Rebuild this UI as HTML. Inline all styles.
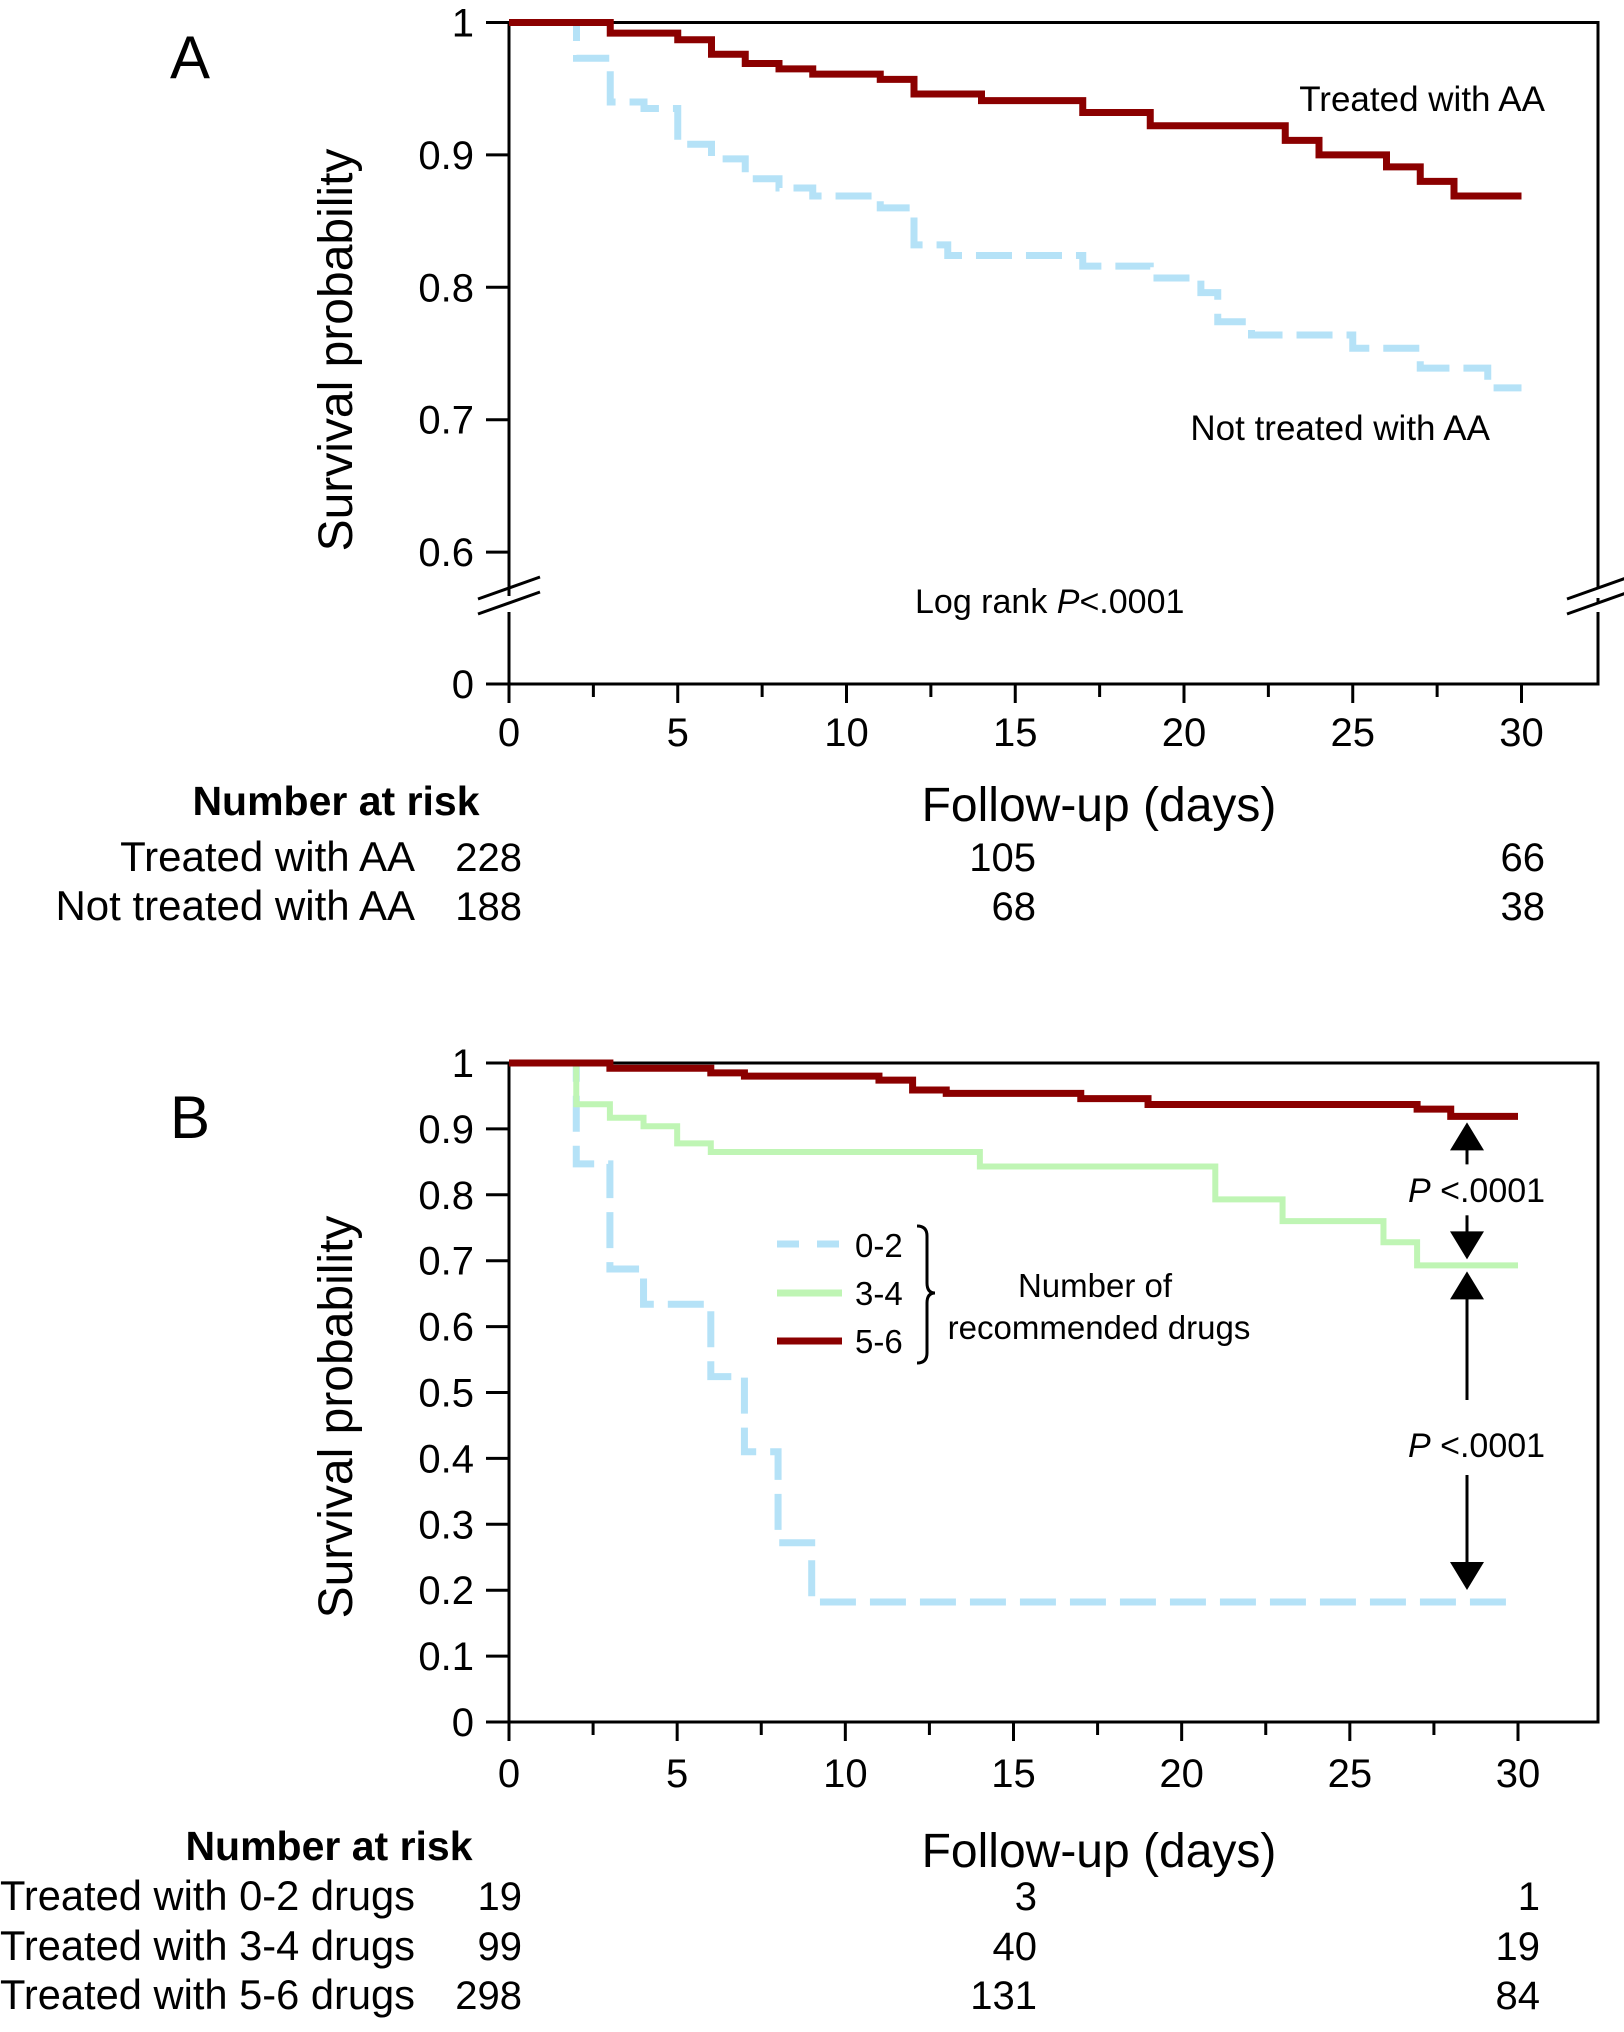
<!DOCTYPE html>
<html><head><meta charset="utf-8"><style>
html,body{margin:0;padding:0;background:#fff;}
svg{display:block;font-family:"Liberation Sans",Arial,sans-serif;}
</style></head><body>
<svg id="chart" width="1624" height="2032" viewBox="0 0 1624 2032">
<g id="gA"></g>
<g id="gB"></g>
</svg>
<script>
// Panel A data
const aDays = [0,5,10,15,20,25,30];
const aTicksY = [1,0.9,0.8,0.7,0.6];
const aTreatedT = [0,3,5,6,7,8,9,11,12,14,17,19,23,24,26,27,28,30];
const aTreatedS = [1,0.992,0.987,0.976,0.969,0.965,0.961,0.957,0.946,0.941,0.932,0.922,0.911,0.900,0.891,0.880,0.869,0.869];
const aNotT = [0,2,3,4,5,6,7,8,9,11,12,13,17,19,20.5,21,22,25,27,29,30];
const aNotS = [1,0.973,0.940,0.935,0.908,0.897,0.882,0.875,0.869,0.860,0.832,0.824,0.816,0.807,0.796,0.774,0.764,0.754,0.739,0.724,0.724];
// Panel B data
const bTicksY = [1,0.9,0.8,0.7,0.6,0.5,0.4,0.3,0.2,0.1,0];
const b56T = [0,3,6,7,11,12,13,17,19,27,28,30];
const b56S = [1,0.992,0.985,0.980,0.974,0.959,0.954,0.946,0.937,0.930,0.919,0.919];
const b34T = [0,2,3,4,5,6,14,21,23,26,27,30];
const b34S = [1,0.9375,0.917,0.904,0.878,0.865,0.843,0.793,0.760,0.728,0.693,0.693];
const b02T = [0,2,3,4,6,7,8,9,30];
const b02S = [1,0.847,0.6875,0.634,0.524,0.410,0.272,0.182,0.182];

const NS='http://www.w3.org/2000/svg';
function mk(parent,tag,attrs,text){const e=document.createElementNS(NS,tag);for(const k in attrs)e.setAttribute(k,attrs[k]);if(text!==undefined)e.textContent=text;parent.appendChild(e);return e;}
const RED='#8b0000',BLUE='#b5e2f7',GREEN='#bff5b4';
const TF=40;

function stepPath(T,S,xf,yf){let d='M'+xf(T[0])+','+yf(S[0]);for(let i=1;i<T.length;i++){d+=' H'+xf(T[i])+' V'+yf(S[i]);}return d;}

// ---------- Panel A ----------
(function(){
const g=document.getElementById('gA');
const x=d=>509+d*(1521.5-509)/30;
const y=v=>v>=0.55? 22.5+(1-v)*1324 : 684;
const f=mk(g,'path',{d:'M509,603 V22.5 H1598 V603 M1598,612 V684 H509 V612',fill:'none',stroke:'#000','stroke-width':3});

mk(g,'rect',{x:500,y:596,width:18,height:10,fill:'#fff'});
mk(g,'rect',{x:1590,y:588,width:16,height:10,fill:'#fff'});
[478,1567].forEach(bx=>{const b=mk(g,'path',{d:`M${bx},599 l62,-22 M${bx},614 l62,-22`,stroke:'#000','stroke-width':3});});
aTicksY.forEach(v=>{mk(g,'line',{x1:486,x2:509,y1:y(v),y2:y(v),stroke:'#000','stroke-width':3});
const t=mk(g,'text',{x:474,y:y(v)+14,'font-size':TF,'text-anchor':'end'},String(v));});
mk(g,'line',{x1:486,x2:509,y1:684,y2:684,stroke:'#000','stroke-width':3});
mk(g,'text',{x:474,y:698,'font-size':TF,'text-anchor':'end'},'0');
for(let d=0;d<=30;d+=2.5){mk(g,'line',{x1:x(d),x2:x(d),y1:684,y2:d%5===0?703:697,stroke:'#000','stroke-width':3});}
aDays.forEach(d=>{const t=mk(g,'text',{x:x(d),y:746,'font-size':TF,'text-anchor':'middle'},String(d));});
const p1=mk(g,'path',{d:stepPath(aNotT,aNotS,x,y),fill:'none',stroke:BLUE,'stroke-width':7,'stroke-dasharray':'36,14'});

const p2=mk(g,'path',{d:stepPath(aTreatedT,aTreatedS,x,y),fill:'none',stroke:RED,'stroke-width':7});

const t1=mk(g,'text',{x:1545,y:111,'font-size':35,'text-anchor':'end'},'Treated with AA');
const t2=mk(g,'text',{x:1490,y:440,'font-size':35,'text-anchor':'end'},'Not treated with AA');
const lr=mk(g,'text',{x:915,y:613,'font-size':34});lr.innerHTML='Log rank <tspan font-style="italic">P</tspan>&lt;.0001';
const A=mk(g,'text',{x:190,y:78,'font-size':60,'text-anchor':'middle'},'A');
const yl=mk(g,'text',{x:0,y:0,'font-size':48,'text-anchor':'middle',transform:'translate(352,350) rotate(-90)'},'Survival probability');
const xl=mk(g,'text',{x:1099,y:821,'font-size':48,'text-anchor':'middle'},'Follow-up (days)');
const nr=mk(g,'text',{x:336,y:815,'font-size':41,'font-weight':'bold','text-anchor':'middle'},'Number at risk');
const rows=[['Treated with AA',['228','105','66'],871],['Not treated with AA',['188','68','38'],920]];
rows.forEach(r=>{const l=mk(g,'text',{x:415,y:r[2],'font-size':42,'text-anchor':'end'},r[0]);
mk(g,'text',{x:522,y:r[2],'font-size':40,'text-anchor':'end'},r[1][0]);
mk(g,'text',{x:1036,y:r[2],'font-size':40,'text-anchor':'end'},r[1][1]);
mk(g,'text',{x:1545,y:r[2],'font-size':40,'text-anchor':'end'},r[1][2]);});
})();

// ---------- Panel B ----------
(function(){
const g=document.getElementById('gB');
const x=d=>509+d*(1518-509)/30;
const y=v=>1722-v*659;
const f=mk(g,'rect',{x:509,y:1063,width:1089,height:659,fill:'none',stroke:'#000','stroke-width':3});

bTicksY.forEach(v=>{mk(g,'line',{x1:486,x2:509,y1:y(v),y2:y(v),stroke:'#000','stroke-width':3});
const t=mk(g,'text',{x:474,y:y(v)+14,'font-size':TF,'text-anchor':'end'},String(v));});
for(let d=0;d<=30;d+=2.5){mk(g,'line',{x1:x(d),x2:x(d),y1:1722,y2:d%5===0?1741:1735,stroke:'#000','stroke-width':3});}
aDays.forEach(d=>{const t=mk(g,'text',{x:x(d),y:1787,'font-size':TF,'text-anchor':'middle'},String(d));});
const s1=mk(g,'path',{d:stepPath(b02T,b02S,x,y),fill:'none',stroke:BLUE,'stroke-width':7,'stroke-dasharray':'36,14'});
const s2=mk(g,'path',{d:stepPath(b34T,b34S,x,y),fill:'none',stroke:GREEN,'stroke-width':6});
const s3=mk(g,'path',{d:stepPath(b56T,b56S,x,y),fill:'none',stroke:RED,'stroke-width':7});
const lg=mk(g,'g',{});
mk(lg,'line',{x1:777,x2:842,y1:1244,y2:1244,stroke:BLUE,'stroke-width':7,'stroke-dasharray':'22,18'});
mk(lg,'line',{x1:777,x2:842,y1:1293,y2:1293,stroke:GREEN,'stroke-width':7});
mk(lg,'line',{x1:777,x2:842,y1:1341,y2:1341,stroke:RED,'stroke-width':7});
mk(lg,'text',{x:855,y:1257,'font-size':33},'0-2');
mk(lg,'text',{x:855,y:1305,'font-size':33},'3-4');
mk(lg,'text',{x:855,y:1353,'font-size':33},'5-6');
mk(lg,'path',{d:'M917,1226 q10,0 10,10 V1283 q0,10 8,10 q-8,0 -8,10 V1353 q0,10 -10,10',fill:'none',stroke:'#000','stroke-width':3});
mk(lg,'text',{x:1095,y:1297,'font-size':33,'text-anchor':'middle'},'Number of');
mk(lg,'text',{x:1099,y:1339,'font-size':33,'text-anchor':'middle'},'recommended drugs');
const ax=1467;
const ar=mk(g,'g',{});
const yr=y(b56S[b56S.length-1]), yg=y(b34S[b34S.length-1]), yb=y(b02S[b02S.length-1]);
mk(ar,'line',{x1:ax,x2:ax,y1:yr+30,y2:yr+48,stroke:'#000','stroke-width':3});
mk(ar,'line',{x1:ax,x2:ax,y1:yg-50,y2:yg-30,stroke:'#000','stroke-width':3});
mk(ar,'polygon',{points:`${ax},${yr+6} ${ax-17},${yr+34} ${ax+17},${yr+34}`,fill:'#000'});
mk(ar,'polygon',{points:`${ax},${yg-6} ${ax-17},${yg-34} ${ax+17},${yg-34}`,fill:'#000'});
mk(ar,'polygon',{points:`${ax},${yg+6} ${ax-17},${yg+34} ${ax+17},${yg+34}`,fill:'#000'});
mk(ar,'polygon',{points:`${ax},${yb-12} ${ax-17},${yb-40} ${ax+17},${yb-40}`,fill:'#000'});
mk(ar,'line',{x1:ax,x2:ax,y1:yg+30,y2:1400,stroke:'#000','stroke-width':3});
mk(ar,'line',{x1:ax,x2:ax,y1:1475,y2:yb-38,stroke:'#000','stroke-width':3});
const pa=mk(ar,'text',{x:1408,y:1202,'font-size':34});pa.innerHTML='<tspan font-style="italic">P</tspan> &lt;.0001';
const pb=mk(ar,'text',{x:1408,y:1457,'font-size':34});pb.innerHTML='<tspan font-style="italic">P</tspan> &lt;.0001';
const B=mk(g,'text',{x:190,y:1138,'font-size':60,'text-anchor':'middle'},'B');
const yl=mk(g,'text',{x:0,y:0,'font-size':48,'text-anchor':'middle',transform:'translate(352,1417) rotate(-90)'},'Survival probability');
const xl=mk(g,'text',{x:1099,y:1867,'font-size':48,'text-anchor':'middle'},'Follow-up (days)');
const nr=mk(g,'text',{x:329,y:1860,'font-size':41,'font-weight':'bold','text-anchor':'middle'},'Number at risk');
const rows=[['Treated with 0-2 drugs',['19','3','1'],1910],['Treated with 3-4 drugs',['99','40','19'],1960],['Treated with 5-6 drugs',['298','131','84'],2009]];
rows.forEach(r=>{const l=mk(g,'text',{x:0,y:r[2],'font-size':42,textLength:415,lengthAdjust:'spacingAndGlyphs'},r[0]);
mk(g,'text',{x:522,y:r[2],'font-size':40,'text-anchor':'end'},r[1][0]);
mk(g,'text',{x:1037,y:r[2],'font-size':40,'text-anchor':'end'},r[1][1]);
mk(g,'text',{x:1540,y:r[2],'font-size':40,'text-anchor':'end'},r[1][2]);});
})();
</script>
</body></html>
